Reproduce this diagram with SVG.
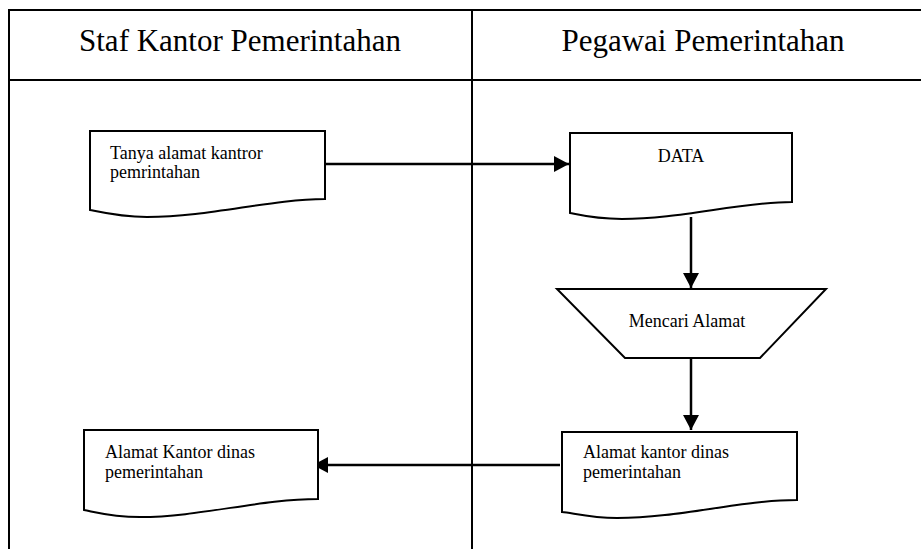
<svg xmlns="http://www.w3.org/2000/svg" width="921" height="549" viewBox="0 0 921 549">
<style>
.bg{fill:#fff}
.grid{stroke:#000;stroke-width:2;fill:none}
.shape{fill:#fff;stroke:#000;stroke-width:2}
.conn{stroke:#000;stroke-width:2.5;fill:none}
text{font-family:'Liberation Serif',Times,'DejaVu Serif',serif;fill:#000}
.hdr{font-size:31px}
.lbl{font-size:18px}
</style>
<defs>
<marker id="arr" viewBox="0 0 15 16" refX="15" refY="8" markerWidth="15" markerHeight="16" markerUnits="userSpaceOnUse" orient="auto">
<path d="M0,0 L15,8 L0,16 Z" fill="#000"/>
</marker>
</defs>
<rect class="bg" x="0" y="0" width="921" height="549"/>
<g id="table">
<path class="grid" d="M9,549 V10 H921 M9,80 H921 M472,10 V549"/>
<text class="hdr" x="240" y="51" text-anchor="middle" font-family="Liberation Serif, serif">Staf Kantor Pemerintahan</text>
<text class="hdr" x="703" y="51" text-anchor="middle" font-family="Liberation Serif, serif">Pegawai Pemerintahan</text>
</g>
<g id="connectors">
<line class="conn" x1="325" y1="164" x2="569" y2="164" marker-end="url(#arr)"/>
<line class="conn" x1="691" y1="217" x2="691" y2="288" marker-end="url(#arr)"/>
<line class="conn" x1="691" y1="358" x2="691" y2="430" marker-end="url(#arr)"/>
<line class="conn" x1="560" y1="465" x2="313" y2="465" marker-end="url(#arr)"/>
</g>
<g id="node-tanya">
<path class="shape" d="M90,131 H325 V199 C270,199 210,217 147,217 C120,217 100,212 90,210 Z"/>
<text class="lbl" x="110" y="159">Tanya alamat kantror</text>
<text class="lbl" x="110" y="178">pemrintahan</text>
</g>
<g id="node-data">
<path class="shape" d="M570,133 H792 V202 C740,202 680,219 622,219 C595,219 580,215 570,213 Z"/>
<text class="lbl" x="681" y="162" text-anchor="middle">DATA</text>
</g>
<g id="node-mencari">
<path class="shape" d="M557,289 H826 L760,358 H625 Z"/>
<text class="lbl" x="687" y="327" text-anchor="middle">Mencari Alamat</text>
</g>
<g id="node-alamat-pegawai">
<path class="shape" d="M562,432 H797 V500 C740,500 680,518 617,518 C590,518 573,513 562,512 Z"/>
<text class="lbl" x="583" y="458">Alamat kantor dinas</text>
<text class="lbl" x="583" y="478">pemerintahan</text>
</g>
<g id="node-alamat-staf">
<path class="shape" d="M84,430 H318 V499 C260,499 200,517 140,517 C112,517 95,512 84,510 Z"/>
<text class="lbl" x="105" y="458">Alamat Kantor dinas</text>
<text class="lbl" x="105" y="478">pemerintahan</text>
</g>
</svg>
